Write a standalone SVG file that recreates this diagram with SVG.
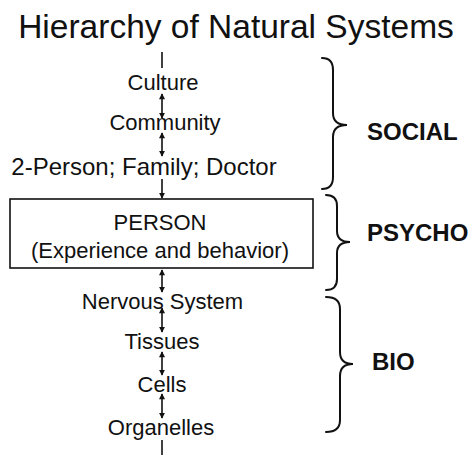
<svg xmlns="http://www.w3.org/2000/svg" width="475" height="455" viewBox="0 0 475 455">
<defs>
<style>
.t{font-family:"Liberation Sans",Arial,sans-serif;font-size:22px;fill:#111;text-anchor:middle}
.ttl{font-family:"Liberation Sans",Arial,sans-serif;font-size:33.5px;fill:#111;text-anchor:middle}
.lb{font-family:"Liberation Sans",Arial,sans-serif;font-size:24px;font-weight:bold;fill:#111}
.ln{stroke:#111;stroke-width:1.6;fill:none}
.br{stroke:#111;stroke-width:2;fill:none;stroke-linecap:round}
.box{fill:#fff;stroke:#111;stroke-width:1.6}
</style>
<marker id="ah" viewBox="0 0 8 8" refX="7" refY="4" markerWidth="6.5" markerHeight="6" orient="auto-start-reverse" markerUnits="userSpaceOnUse">
<path d="M0,0 L8,4 L0,8 z" fill="#111"/>
</marker>
</defs>
<rect width="475" height="455" fill="#fff"/>
<text class="ttl" x="236" y="38">Hierarchy of Natural Systems</text>
<g id="connectors">
<line class="ln" x1="162" y1="52" x2="162" y2="68"/>
<line class="ln" x1="162" y1="94" x2="162" y2="118" marker-start="url(#ah)" marker-end="url(#ah)"/>
<line class="ln" x1="162" y1="133" x2="162" y2="156" marker-start="url(#ah)" marker-end="url(#ah)"/>
<line class="ln" x1="162" y1="179" x2="162" y2="198" marker-end="url(#ah)"/>
<line class="ln" x1="162" y1="270" x2="162" y2="292" marker-start="url(#ah)" marker-end="url(#ah)"/>
<line class="ln" x1="162" y1="308" x2="162" y2="332" marker-start="url(#ah)" marker-end="url(#ah)"/>
<line class="ln" x1="162" y1="352" x2="162" y2="375" marker-start="url(#ah)" marker-end="url(#ah)"/>
<line class="ln" x1="162" y1="394" x2="162" y2="418" marker-start="url(#ah)" marker-end="url(#ah)"/>
<line class="ln" x1="162" y1="440" x2="162" y2="455"/>
</g>
<g id="culture"><text class="t" x="163" y="90">Culture</text></g>
<g id="community"><text class="t" x="165" y="130">Community</text></g>
<g id="two-person"><text class="t" x="144" y="175" style="font-size:24px">2-Person; Family; Doctor</text></g>
<g id="person">
<rect class="box" x="10" y="199" width="303" height="69"/>
<text class="t" x="160" y="230">PERSON</text>
<text class="t" x="160" y="258">(Experience and behavior)</text>
</g>
<g id="nervous"><text class="t" x="162.5" y="309">Nervous System</text></g>
<g id="tissues"><text class="t" x="162" y="349">Tissues</text></g>
<g id="cells"><text class="t" x="162" y="392">Cells</text></g>
<g id="organelles"><text class="t" x="161" y="435">Organelles</text></g>
<g id="social">
<path class="br" d="M322,58 Q333,58 333,70 L333,113 Q333,125 347,125 Q333,125 333,137 L333,177 Q333,189 322,189"/>
<text class="lb" x="367" y="140">SOCIAL</text>
</g>
<g id="psycho">
<path class="br" d="M326,195 Q337,195 337,206 L337,231 Q337,242 350,242 Q337,242 337,253 L337,279 Q337,290 326,290"/>
<text class="lb" x="367" y="241">PSYCHO</text>
</g>
<g id="bio">
<path class="br" d="M326,297 Q340,297 340,309 L340,352 Q340,364 353,364 Q340,364 340,376 L340,420 Q340,432 326,432"/>
<text class="lb" x="372" y="370">BIO</text>
</g>
</svg>
